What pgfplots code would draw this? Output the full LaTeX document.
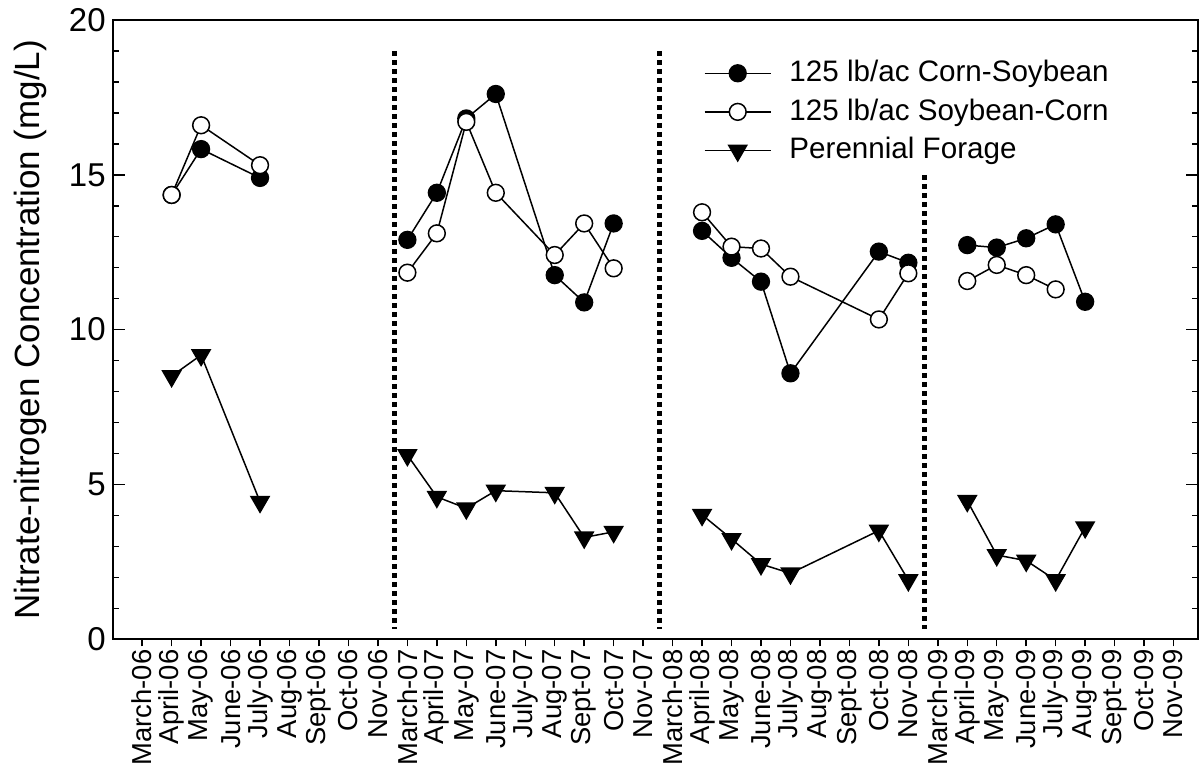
\documentclass[border=0pt]{standalone}
\usepackage{fontspec}
\setmainfont{Liberation Sans}
\usepackage{pgfplots}
\pgfplotsset{compat=1.18}

\begin{document}
\begin{tikzpicture}
% 1 px of the reference = 0.5pt
\useasboundingbox (-56.35pt,-64.85pt) rectangle (543.15pt,319.65pt);
\pgfplotsset{
  frame/.style={
    scale only axis, width=542.65pt, height=309.65pt,
    at={(0,0)}, anchor=south west,
    xmin=-1, xmax=35.83, ymin=0, ymax=20,
    axis line style={line width=1pt},
    tick style={line width=0.75pt, black},
  },
}

% y axis: ticks inside, both sides
\begin{axis}[frame,
  xtick=\empty, ytick={0,5,10,15,20}, minor y tick num=4,
  tick align=inside, major tick length=6pt, minor tick length=3pt,
  ytick pos=both, yticklabel pos=left,
  /pgf/number format/assume math mode=true,
  yticklabel style={font=\fontsize{16.5}{18}\selectfont},
  ylabel={Nitrate-nitrogen Concentration (mg/L)},
  ylabel style={font=\fontsize{17.5}{20}\selectfont,
    at={(axis description cs:-0.0762,0.5)}, anchor=center},
]
\end{axis}

% x axis and data
\begin{axis}[frame,
  ytick=\empty, xtick={0,...,35},
  xticklabels={March-06,April-06,May-06,June-06,July-06,Aug-06,Sept-06,Oct-06,Nov-06,
    March-07,April-07,May-07,June-07,July-07,Aug-07,Sept-07,Oct-07,Nov-07,
    March-08,April-08,May-08,June-08,July-08,Aug-08,Sept-08,Oct-08,Nov-08,
    March-09,April-09,May-09,June-09,July-09,Aug-09,Sept-09,Oct-09,Nov-09},
  tick align=outside, major tick length=3.5pt, xtick pos=lower,
  xticklabel style={rotate=90, anchor=east, inner sep=1.5pt,
    font=\fontsize{13.7}{16}\selectfont},
  unbounded coords=jump,
  legend style={draw=none, fill=none, inner sep=0pt, outer sep=0pt,
    at={(axis description cs:0.5448,0.939)}, anchor=north west,
    font=\fontsize{14.8}{17}\selectfont, cells={anchor=west},
    nodes={inner sep=0pt, text height=12pt, text depth=3.5pt},
    row sep=3.8pt, column sep=9pt},
  legend image code/.code={\draw[mark repeat=2,mark phase=2,#1]
    plot coordinates {(0pt,0pt)(16.5pt,0pt)(33pt,0pt)};},
]
% season separators
\addplot[black, line width=2.4pt, dash pattern=on 2.4pt off 2.1pt, forget plot]
  coordinates {(8.55,19) (8.55,0.33)};
\addplot[black, line width=2.4pt, dash pattern=on 2.4pt off 2.1pt, forget plot]
  coordinates {(17.55,19) (17.55,0.33)};
\addplot[black, line width=2.4pt, dash pattern=on 2.4pt off 2.1pt, forget plot]
  coordinates {(26.55,15) (26.55,0.33)};

\addplot[black, line width=0.75pt, mark=*, mark size=4.2pt,
  mark options={solid, fill=black}] coordinates {
  (1,14.35) (2,15.83) (4,14.9) (5,nan)
  (9,12.9) (10,14.42) (11,16.82) (12,17.61) (14,11.76) (15,10.88) (16,13.43) (17,nan)
  (19,13.19) (20,12.32) (21,11.55) (22,8.59) (25,12.52) (26,12.16) (27,nan)
  (28,12.73) (29,12.65) (30,12.95) (31,13.4) (32,10.9)};
\addlegendentry{125 lb/ac Corn-Soybean}

\addplot[black, line width=0.75pt, mark=*, mark size=4.2pt,
  mark options={solid, fill=white}] coordinates {
  (1,14.35) (2,16.6) (4,15.31) (5,nan)
  (9,11.84) (10,13.11) (11,16.71) (12,14.42) (14,12.41) (15,13.43) (16,11.98) (17,nan)
  (19,13.79) (20,12.68) (21,12.62) (22,11.71) (25,10.33) (26,11.82) (27,nan)
  (28,11.57) (29,12.09) (30,11.76) (31,11.3)};
\addlegendentry{125 lb/ac Soybean-Corn}

\addplot[black, line width=0.75pt, mark=triangle*, mark size=5.2pt,
  mark options={solid, fill=black, rotate=180}] coordinates {
  (1,8.5) (2,9.18) (4,4.44) (5,nan)
  (9,5.95) (10,4.6) (11,4.23) (12,4.8) (14,4.73) (15,3.29) (16,3.47) (17,nan)
  (19,4.02) (20,3.24) (21,2.43) (22,2.13) (25,3.51) (26,1.91) (27,nan)
  (28,4.47) (29,2.72) (30,2.54) (31,1.91) (32,3.62)};
\addlegendentry{Perennial Forage}
\end{axis}
\end{tikzpicture}
\end{document}
